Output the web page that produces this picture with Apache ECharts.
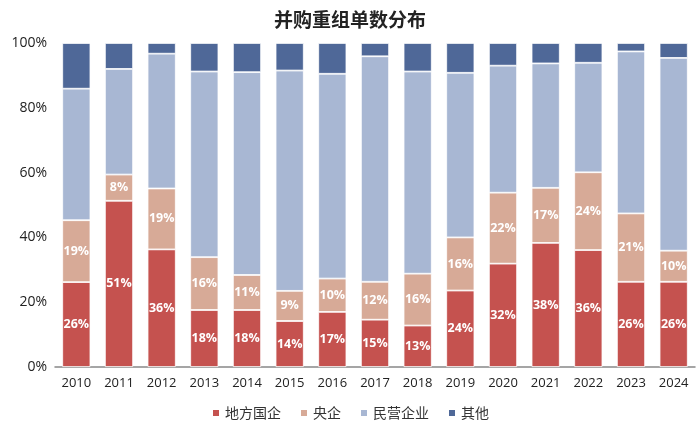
<!DOCTYPE html>
<html><head><meta charset="utf-8">
<script src="https://cdn.jsdelivr.net/npm/echarts@6/dist/echarts.min.js"></script>
<style>html,body{margin:0;padding:0;background:#fff}#c{width:700px;height:429px}</style>
</head><body><div id="c"></div>
<script>
const years = ['2010','2011','2012','2013','2014','2015','2016','2017','2018','2019','2020','2021','2022','2023','2024'];
const localSOE = [26.2, 51.3, 36.3, 17.6, 17.6, 14.2, 17.0, 14.6, 12.8, 23.6, 31.9, 38.3, 36.1, 26.3, 26.3];
const centralSOE = [19.1, 8.1, 18.8, 16.3, 10.8, 9.3, 10.3, 11.7, 16.0, 16.4, 21.9, 17.0, 24.0, 21.1, 9.6];
const privateEnt = [40.6, 32.6, 41.6, 57.3, 62.6, 68.0, 63.2, 69.6, 62.4, 50.8, 39.2, 38.4, 33.8, 50.0, 59.5];
const others = [14.1, 8.0, 3.3, 8.8, 9.0, 8.5, 9.5, 4.1, 8.8, 9.2, 7.0, 6.3, 6.1, 2.6, 4.6];
const seriesNames = ['地方国企','央企','民营企业','其他'];
const colors = ['#C5524F','#D7AA97','#A8B7D3','#4F6898'];
const yTicks = [0,20,40,60,80,100];

const font = '"Noto Sans CJK SC","Noto Sans",sans-serif';
const numFont = '"Open Sans","Noto Sans",sans-serif';
const chart = echarts.init(document.getElementById('c'), null, {renderer:'canvas'});
const label = {show:true, color:'#fff', fontWeight:'bold', fontSize:12.5, fontFamily:numFont,
  formatter: p => Math.round(p.value) + '%'};
const mk = (name, data, idx, withLabel) => ({
  name, type:'bar', stack:'s', data, barCategoryGap:'34%',
  itemStyle:{color:colors[idx], borderColor:'#fff', borderWidth:0.8},
  label: withLabel ? label : {show:false}
});
chart.setOption({
  animation:false,
  textStyle:{fontFamily:font},
  title:{text:'并购重组单数分布', left:'center', top:5,
    textStyle:{fontSize:19, fontWeight:'bold', color:'#222', fontFamily:font}},
  legend:{bottom:4, itemWidth:8, itemHeight:8, itemGap:18, icon:'rect',
    textStyle:{fontSize:14, color:'#333', fontFamily:font}},
  grid:{left:55, right:5, top:43, bottom:62},
  xAxis:{type:'category', data:years,
    axisLine:{lineStyle:{color:'#888', width:1.5}}, axisTick:{show:false},
    axisLabel:{color:'#222', fontSize:13, margin:10, fontFamily:numFont}},
  yAxis:{type:'value', min:0, max:100, interval:20,
    axisLine:{show:false}, axisTick:{show:false}, splitLine:{show:false},
    axisLabel:{color:'#222', fontSize:14, formatter: v => yTicks.includes(v) ? v + '%' : '', fontFamily:numFont}},
  series:[
    mk(seriesNames[0], localSOE, 0, true),
    mk(seriesNames[1], centralSOE, 1, true),
    mk(seriesNames[2], privateEnt, 2, false),
    mk(seriesNames[3], others, 3, false)
  ]
});
</script></body></html>
